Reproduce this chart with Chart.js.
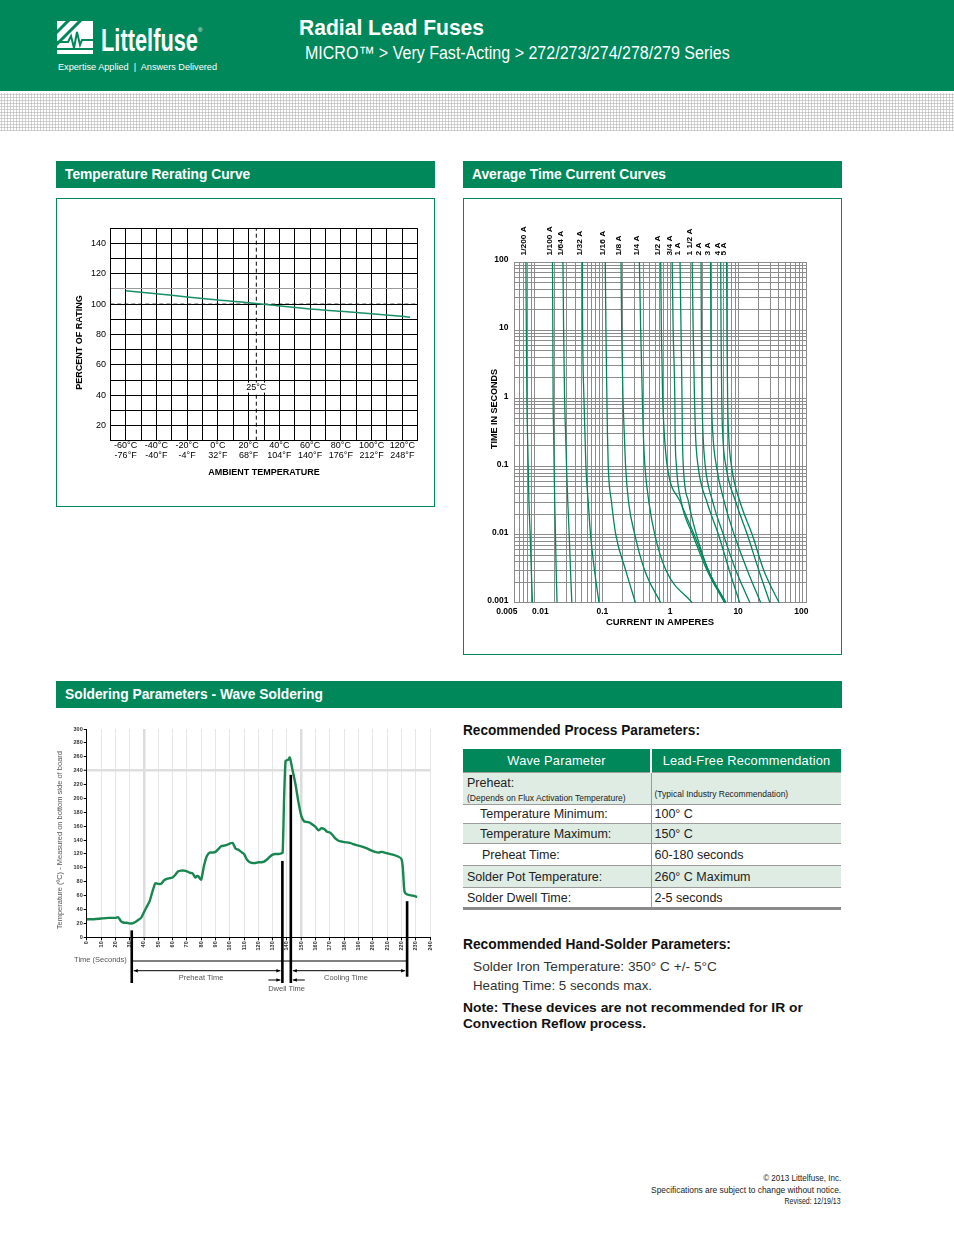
<!DOCTYPE html>
<html lang="en">
<head>
<meta charset="utf-8">
<title>Radial Lead Fuses - 272/273/274/278/279 Series</title>
<script src="https://cdn.jsdelivr.net/npm/chart.js@4.4.1/dist/chart.umd.min.js"></script>
<style>
  html, body { margin: 0; padding: 0; }
  body { width: 954px; height: 1235px; position: relative; overflow: hidden; background: #fff;
         font-family: "Liberation Sans", Arial, Helvetica, sans-serif; color: #222; }
  .abs { position: absolute; white-space: nowrap; line-height: 1; transform-origin: left center; }
  .right { transform-origin: right center; text-align: right; }
  .band { left: 0; top: 0; width: 954px; height: 91px; background: #00875a; }
  .dots { left: 0; top: 93px; width: 954px; height: 38px;
          background-image: radial-gradient(circle, #c2c2c2 0.9px, rgba(255,255,255,0) 1.3px);
          background-size: 3px 3px; }
  .bar { position: absolute; background: #00875a; color: #fff; font-weight: bold; font-size: 13.8px;
         height: 27px; line-height: 27px; padding-left: 9px; box-sizing: border-box; }
  .box { position: absolute; border: 1px solid #00875a; box-sizing: border-box; }
  .wrap { position: absolute; }
  .ptab { position: absolute; left: 463px; top: 749px; width: 378px; border-collapse: collapse;
          table-layout: fixed; font-size: 12.5px; color: #222; }
  .ptab th { background: #00875a; color: #fff; font-weight: normal; height: 23px; padding: 0;
             text-align: center; font-size: 12.8px; letter-spacing: 0.2px; }
  .ptab th + th { border-left: 2px solid #fff; }
  .ptab td { padding: 0 0 0 4px; border-top: 1px solid #9c9c9c; vertical-align: middle; white-space: nowrap; }
  .ptab td + td { border-left: 1px solid #9c9c9c; padding-left: 3px; }
  .ptab tr.g td { background: #deece4; }
  .ptab tr.last td { border-bottom: 3px solid #8a8a8a; }
  .ptab .sm { font-size: 8.5px; }
  .ptab .ind { padding-left: 17px; }
</style>
</head>
<body>

<div class="abs band"></div>
<div class="abs dots"></div>

<!-- logo -->
<svg class="abs" style="left:57px;top:21px" width="36" height="33" viewBox="0 0 36 33">
  <rect x="0" y="0" width="36" height="33" fill="#fff"/>
  <path d="M-2 13 L13 -2 M-2 25 L25 -2" stroke="#00875a" stroke-width="3"/>
  <path d="M0 21 L11 21 L14 15 L17 27 L20 11 L23 24 L25 19 L36 19" fill="none" stroke="#00875a" stroke-width="2"/>
  <rect x="0" y="27" width="36" height="2" fill="#00875a"/>
</svg>
<div class="abs" data-w="97" style="left:101px;top:24.5px;font-size:31px;font-weight:bold;color:#fff">Littelfuse</div>
<div class="abs" style="left:198px;top:27px;font-size:6px;color:#fff">®</div>
<div class="abs" data-w="159" style="left:58px;top:61.5px;font-size:9.5px;color:#fff">Expertise Applied &nbsp;|&nbsp; Answers Delivered</div>

<div class="abs" data-w="185" style="left:299px;top:17.3px;font-size:22px;font-weight:bold;color:#fff">Radial Lead Fuses</div>
<div class="abs" data-w="425" style="left:305px;top:44.2px;font-size:18px;color:#fff">MICRO™ &gt; Very Fast-Acting &gt; 272/273/274/278/279 Series</div>

<!-- section bars and boxes -->
<div class="bar" style="left:56px;top:161px;width:379px">Temperature Rerating Curve</div>
<div class="bar" style="left:463px;top:161px;width:379px">Average Time Current Curves</div>
<div class="box" style="left:56px;top:198px;width:379px;height:309px"></div>
<div class="box" style="left:463px;top:198px;width:379px;height:457px"></div>
<div class="wrap" style="left:57px;top:199px;width:377px;height:307px"><canvas id="rerateChart"></canvas></div>
<div class="wrap" style="left:464px;top:199px;width:377px;height:455px"><canvas id="tccChart"></canvas></div>

<div class="bar" style="left:56px;top:681px;width:786px">Soldering Parameters - Wave Soldering</div>
<div class="wrap" style="left:50px;top:720px;width:392px;height:285px"><canvas id="solderChart"></canvas></div>

<!-- process parameters -->
<div class="abs" data-w="237" style="left:463px;top:723px;font-size:14px;font-weight:bold;color:#111">Recommended Process Parameters:</div>
<table class="ptab">
  <colgroup><col style="width:188px"><col style="width:190px"></colgroup>
  <tr><th>Wave Parameter</th><th>Lead-Free Recommendation</th></tr>
  <tr class="g" style="height:32px">
    <td style="vertical-align:top;padding-top:3px"><div style="font-size:12.5px">Preheat:</div><div class="sm" style="margin-top:3px">(Depends on Flux Activation Temperature)</div></td>
    <td style="vertical-align:bottom;padding-bottom:4px"><span class="sm">(Typical Industry Recommendation)</span></td>
  </tr>
  <tr style="height:19px"><td class="ind">Temperature Minimum:</td><td>100° C</td></tr>
  <tr class="g" style="height:20px"><td class="ind">Temperature Maximum:</td><td>150° C</td></tr>
  <tr style="height:22px"><td style="padding-left:19px">Preheat Time:</td><td>60-180 seconds</td></tr>
  <tr class="g" style="height:22px"><td>Solder Pot Temperature:</td><td>260° C Maximum</td></tr>
  <tr class="last" style="height:21px"><td>Solder Dwell Time:</td><td>2-5 seconds</td></tr>
</table>

<div class="abs" data-w="268" style="left:463px;top:937px;font-size:14px;font-weight:bold;color:#111">Recommended Hand-Solder Parameters:</div>
<div class="abs" data-w="244" style="left:473px;top:960px;font-size:13px;color:#333">Solder Iron Temperature: 350° C +/- 5°C</div>
<div class="abs" data-w="179" style="left:473px;top:978.5px;font-size:13px;color:#333">Heating Time: 5 seconds max.</div>
<div class="abs" data-w="340" style="left:463px;top:1000.5px;font-size:13.5px;font-weight:bold;color:#111">Note: These devices are not recommended for IR or</div>
<div class="abs" data-w="183" style="left:463px;top:1016.5px;font-size:13.5px;font-weight:bold;color:#111">Convection Reflow process.</div>

<!-- footer -->
<div class="abs right" data-w="78" style="right:113px;top:1173.5px;font-size:9px;color:#222">© 2013 Littelfuse, Inc.</div>
<div class="abs right" data-w="190" style="right:113px;top:1185.5px;font-size:9px;color:#222">Specifications are subject to change without notice.</div>
<div class="abs right" data-w="56" style="right:113px;top:1196.5px;font-size:9px;color:#222">Revised: 12/19/13</div>

<script>
// ---------- Temperature rerating curve ----------
const rerateTempC = [-60, -40, -20, 0, 20, 40, 60, 80, 100, 120, 125];
const reratePct   = [108.9, 106.9, 104.7, 102.7, 101.0, 98.8, 96.8, 95.3, 93.7, 92.0, 91.3];
const tempTicksC  = [-60, -40, -20, 0, 20, 40, 60, 80, 100, 120];
const tempLabelsC = ['-60°C', '-40°C', '-20°C', '0°C', '20°C', '40°C', '60°C', '80°C', '100°C', '120°C'];
const tempLabelsF = ['-76°F', '-40°F', '-4°F', '32°F', '68°F', '104°F', '140°F', '176°F', '212°F', '248°F'];
const pctTicks    = [20, 40, 60, 80, 100, 120, 140];
const refTempC = 25;
const refPct = 100;

// ---------- Average time current curves ----------
const fuseRatings = ['1/200 A', '1/100 A', '1/64 A', '1/32 A', '1/16 A', '1/8 A', '1/4 A', '1/2 A',
                     '3/4 A', '1 A', '1 1/2 A', '2 A', '3 A', '4 A', '5 A'];
const curveTimes = [100, 10, 1, 0.3, 0.1, 0.03, 0.01, 0.003, 0.001];   // seconds
const amps_1_200 = [0.00749, 0.0076, 0.00774, 0.0079, 0.0081, 0.0083, 0.00866, 0.0090, 0.00935];
const amps_1_100 = [0.01845, 0.01866, 0.01885, 0.0192, 0.0195, 0.0199, 0.0204, 0.0209, 0.02155];
const amps_1_64  = [0.0263, 0.0269, 0.0278, 0.0288, 0.0297, 0.0310, 0.0325, 0.0340, 0.0355];
const amps_1_32  = [0.0507, 0.0513, 0.0536, 0.0555, 0.0573, 0.0620, 0.0670, 0.0766, 0.0894];
const amps_1_16  = [0.1105, 0.1130, 0.1168, 0.1190, 0.1222, 0.1365, 0.1578, 0.2203, 0.3075];
const amps_1_8   = [0.1885, 0.1928, 0.2015, 0.2107, 0.2203, 0.2434, 0.3008, 0.4199, 0.724];
const amps_1_4   = [0.3515, 0.3674, 0.3885, 0.4017, 0.4246, 0.4853, 0.5929, 0.8654, 2.1];
const amps_1_2   = [0.724, 0.7405, 0.774, 0.8185, 0.905, 1.412, 2.25, 3.63, 6.41];
const amps_3_4   = [1.069, 1.105, 1.169, 1.182, 1.235, 1.455, 2.14, 3.48, 6.31];
const amps_1     = [1.396, 1.443, 1.492, 1.509, 1.561, 1.864, 2.435, 3.65, 6.66];
const amps_1_5   = [2.107, 2.179, 2.278, 2.355, 2.574, 3.476, 5.13, 7.40, 10.57];
const amps_2     = [2.846, 2.877, 2.942, 3.042, 3.288, 4.246, 6.062, 9.25, 14.92];
const amps_3     = [3.929, 3.972, 4.061, 4.246, 4.799, 6.268, 8.75, 13.65, 21.54];
const amps_4     = [5.546, 5.608, 5.735, 5.93, 6.626, 9.25, 13.65, 20.15, 29.42];
const amps_5     = [6.773, 6.849, 7.003, 7.241, 8.006, 10.69, 16.13, 23.82, 40.17];
const currentTicks  = [0.005, 0.01, 0.1, 1, 10, 100];
const currentLabels = ['0.005', '0.01', '0.1', '1', '10', '100'];
const timeTicks  = [0.001, 0.01, 0.1, 1, 10, 100];
const timeLabels = ['0.001', '0.01', '0.1', '1', '10', '100'];

// ---------- Wave soldering profile ----------
const solderTime = [0, 5, 10, 15, 20, 22, 24, 26, 28, 30, 32, 34, 36, 38, 40, 42, 44, 46, 48, 50,
  52, 54, 56, 58, 60, 62, 64, 66, 68, 70, 72, 74, 76, 77, 78, 79, 80, 81, 82, 84,
  86, 88, 90, 92, 94, 96, 98, 100, 102, 104, 106, 108, 110, 112, 114, 116, 118, 120, 122, 124,
  126, 128, 130, 132, 134, 136, 137, 138, 139, 140, 141, 142, 143, 144, 146, 148, 150, 152, 154, 156,
  158, 160, 162, 164, 166, 168, 170, 172, 174, 176, 178, 180, 184, 188, 192, 196, 200, 204, 206, 210,
  214, 218, 220, 221, 222, 223, 225, 228, 231];
const solderTemp = [26, 26, 27, 28, 28, 29, 23, 21, 21, 20, 20, 22, 25, 28, 36, 44, 52, 66, 78, 77,
  77, 82, 84, 85, 86, 90, 95, 96, 96, 95, 93, 92, 86, 88, 88, 85, 83, 92, 103, 117,
  122, 122, 123, 127, 131, 132, 133, 135, 136, 128, 126, 123, 120, 112, 108, 107, 107, 108, 108, 109,
  112, 116, 119, 120, 120, 121, 122, 200, 254, 255, 256, 259, 250, 240, 220, 195, 175, 167, 166, 165,
  162, 159, 154, 157, 156, 152, 151, 147, 142, 139, 138, 137, 136, 133, 131, 128, 124, 122, 123, 121,
  119, 116, 113, 100, 68, 63, 61, 60, 58];
const phaseMarkTime = [31.5, 136.8, 142.7, 224];
const phaseMarkTemp = [10, 110, 234, 52];
const phaseNames = ['Preheat Time', 'Dwell Time', 'Cooling Time'];

const GREEN = '#00875a';
const FONT = '"Liberation Sans", Arial, Helvetica, sans-serif';
Chart.defaults.font.family = FONT;
Chart.defaults.color = '#000';
Chart.defaults.animation = false;

// rotated y title, placed relative to the plot area
const sideTitle = {
  id: 'sideTitle',
  afterDraw(chart, args, opts) {
    if (!opts || !opts.text) return;
    const { ctx, chartArea: a } = chart;
    ctx.save();
    ctx.font = opts.font;
    ctx.fillStyle = opts.color || '#000';
    ctx.textAlign = 'center';
    ctx.textBaseline = 'middle';
    ctx.translate(a.left + opts.dx, (a.top + a.bottom) / 2 + opts.dy);
    ctx.rotate(-Math.PI / 2);
    ctx.fillText(opts.text, 0, 0);
    ctx.restore();
  }
};
Chart.register(sideTitle);

function labelFor(v, values, labels) {
  const i = values.findIndex(t => Math.abs(t - v) <= Math.abs(t) * 1e-6);
  return i < 0 ? '' : labels[i];
}

// 1..9 x 10^n grid lines for the log axes
function logGridTicks(min, max) {
  const ticks = [];
  for (let e = Math.floor(Math.log10(min)); e <= Math.ceil(Math.log10(max)); e++) {
    for (let m = 1; m <= 9; m++) {
      const v = Number((m * Math.pow(10, e)).toPrecision(4));
      if (v >= min * (1 - 1e-9) && v <= max * (1 + 1e-9)) ticks.push({ value: v });
    }
  }
  return ticks;
}

// ---------- Chart 1: rerating ----------
const refLabel = {
  id: 'refLabel',
  afterDatasetsDraw(chart) {
    const { ctx, scales: { x, y } } = chart;
    const px = x.getPixelForValue(refTempC);
    const py = y.getPixelForValue(45);
    ctx.save();
    ctx.font = '9px ' + FONT;
    const w = ctx.measureText(refTempC + '°C').width + 2;
    ctx.fillStyle = '#fff';
    ctx.fillRect(px - w / 2, py - 5, w, 10);
    ctx.fillStyle = '#000';
    ctx.textAlign = 'center';
    ctx.textBaseline = 'middle';
    ctx.fillText(refTempC + '°C', px, py);
    ctx.restore();
  }
};

new Chart(document.getElementById('rerateChart'), {
  type: 'line',
  data: {
    datasets: [
      { data: rerateTempC.map((c, i) => ({ x: c, y: reratePct[i] })),
        borderColor: '#1a9068', borderWidth: 1.5, pointRadius: 0, tension: 0.3 },
      { data: [{ x: -70, y: refPct }, { x: 130, y: refPct }],
        borderColor: '#000', borderWidth: 1, borderDash: [4, 3], pointRadius: 0 },
      { data: [{ x: refTempC, y: 10 }, { x: refTempC, y: 150 }],
        borderColor: '#000', borderWidth: 1, borderDash: [4, 3], pointRadius: 0 }
    ]
  },
  options: {
    responsive: true,
    maintainAspectRatio: false,
    layout: { padding: { top: 29.3, right: 16.3, bottom: 23.9, left: 0 } },
    plugins: {
      legend: { display: false },
      tooltip: { enabled: false },
      sideTitle: { text: 'PERCENT OF RATING', dx: -31, dy: 8, font: 'bold 9px ' + FONT }
    },
    scales: {
      x: {
        type: 'linear', min: -70, max: 130,
        afterFit: s => { s.height = 41.4; },
        ticks: {
          stepSize: 10, autoSkip: false, maxRotation: 0, padding: 0,
          font: { size: 9, lineHeight: 1.12 },
          callback: v => {
            const i = tempTicksC.indexOf(v);
            return i < 0 ? '' : [tempLabelsC[i], tempLabelsF[i]];
          }
        },
        grid: { color: '#000', lineWidth: 1, drawTicks: false },
        border: { color: '#000' },
        title: { display: true, text: 'AMBIENT TEMPERATURE', font: { size: 9, weight: 'bold' }, padding: { top: 0, bottom: 4 } }
      },
      y: {
        min: 10, max: 150,
        afterFit: s => { s.width = 53.3; },
        ticks: { stepSize: 10, padding: 4.3, font: { size: 9 },
                 callback: v => pctTicks.includes(v) ? String(v) : '' },
        grid: { color: c => (c.tick && c.tick.value === 110) ? '#9a9a9a' : '#000', drawTicks: false },
        border: { color: '#000' }
      }
    }
  },
  plugins: [refLabel]
});

// ---------- Chart 2: time current curves ----------
const ampSeries = [amps_1_200, amps_1_100, amps_1_64, amps_1_32, amps_1_16, amps_1_8, amps_1_4, amps_1_2,
                   amps_3_4, amps_1, amps_1_5, amps_2, amps_3, amps_4, amps_5];

const ratingLabels = {
  id: 'ratingLabels',
  afterDatasetsDraw(chart) {
    const { ctx, chartArea, scales: { x } } = chart;
    ctx.save();
    ctx.font = 'bold 8px ' + FONT;
    ctx.fillStyle = '#000';
    ctx.textAlign = 'left';
    ctx.textBaseline = 'middle';
    chart.data.datasets.forEach(ds => {
      const px = x.getPixelForValue(ds.data[0].x);
      ctx.save();
      ctx.translate(px - 2.2, chartArea.top - 6.5);
      ctx.rotate(-Math.PI / 2);
      ctx.scale(1.05, 0.88);
      ctx.fillText(ds.label, 0, 0);
      ctx.restore();
    });
    ctx.restore();
  }
};

// the edge labels of the current axis sit a little off their grid lines
const currentLabelPad = [[0, 6], [5, 0], [0, 0], [0, 0], [0, 0], [0, 4]];

new Chart(document.getElementById('tccChart'), {
  type: 'line',
  data: {
    datasets: fuseRatings.map((r, i) => ({
      label: r,
      data: curveTimes.map((t, k) => ({ x: ampSeries[i][k], y: t })),
      borderColor: GREEN, borderWidth: 1.3, pointRadius: 0,
      cubicInterpolationMode: 'monotone'
    }))
  },
  options: {
    responsive: true,
    maintainAspectRatio: false,
    layout: { padding: { top: 63, right: 35, bottom: 26, left: 0 } },
    plugins: {
      legend: { display: false },
      tooltip: { enabled: false },
      sideTitle: { text: 'TIME IN SECONDS', dx: -19.3, dy: -23.4, font: 'bold 9px ' + FONT }
    },
    scales: {
      x: {
        type: 'logarithmic', min: 0.005, max: 100,
        afterBuildTicks: s => { s.ticks = logGridTicks(0.005, 100); },
        afterFit: s => { s.height = 25.3; },
        ticks: { autoSkip: false, maxRotation: 0, padding: 3.7, font: { size: 8.5, weight: 'bold' },
                 callback: v => {
                   const i = currentTicks.findIndex(t => Math.abs(t - v) <= t * 1e-6);
                   if (i < 0) return '';
                   const [lead, trail] = currentLabelPad[i];
                   return ' '.repeat(lead) + currentLabels[i] + ' '.repeat(trail);
                 } },
        grid: { color: '#8c8c8c', lineWidth: 1, drawTicks: false },
        border: { color: '#8c8c8c' },
        title: { display: true, text: 'CURRENT IN AMPERES', font: { size: 9.5, weight: 'bold' }, padding: { top: 0, bottom: 0 } }
      },
      y: {
        type: 'logarithmic', min: 0.001, max: 100,
        afterBuildTicks: s => { s.ticks = logGridTicks(0.001, 100); },
        afterFit: s => { s.width = 50; },
        ticks: { autoSkip: false, padding: 5.5, labelOffset: -2, font: { size: 8.5, weight: 'bold' },
                 callback: v => labelFor(v, timeTicks, timeLabels) },
        grid: { color: '#8c8c8c', lineWidth: 1, drawTicks: false },
        border: { color: '#8c8c8c' }
      }
    }
  },
  plugins: [ratingLabels]
});

// ---------- Chart 3: wave soldering profile ----------
function arrowHead(ctx, x, y, dir) {
  ctx.beginPath();
  ctx.moveTo(x, y);
  ctx.lineTo(x - dir * 4, y - 1.8);
  ctx.lineTo(x - dir * 4, y + 1.8);
  ctx.closePath();
  ctx.fill();
}

const phasePlugin = {
  id: 'phases',
  afterDraw(chart) {
    const { ctx, chartArea: a, scales: { x, y } } = chart;
    const xs = phaseMarkTime.map(t => x.getPixelForValue(t));
    ctx.save();
    ctx.fillStyle = '#000';
    ctx.strokeStyle = '#000';
    ctx.lineWidth = 1;
    phaseMarkTime.forEach((t, i) => {
      const top = y.getPixelForValue(phaseMarkTemp[i]);
      const bot = a.bottom + (i === 3 ? 39.4 : 45.7);
      ctx.fillRect(xs[i] - 1.3, top, 2.6, bot - top);
    });
    // overall time line
    const yLine = a.bottom + 23.7;
    ctx.beginPath();
    ctx.moveTo(xs[0], yLine);
    ctx.lineTo(xs[3], yLine);
    ctx.stroke();
    // preheat and cooling spans
    const yArr = a.bottom + 33.4;
    [[xs[0] + 2, xs[1] - 2], [xs[2] + 2, xs[3] - 2]].forEach(([x1, x2]) => {
      ctx.beginPath();
      ctx.moveTo(x1, yArr);
      ctx.lineTo(x2, yArr);
      ctx.stroke();
      arrowHead(ctx, x1, yArr, -1);
      arrowHead(ctx, x2, yArr, 1);
    });
    // dwell arrows pointing inward
    const yDw = a.bottom + 42.7;
    ctx.beginPath();
    ctx.moveTo(xs[1] - 14, yDw); ctx.lineTo(xs[1] - 2, yDw);
    ctx.moveTo(xs[2] + 14, yDw); ctx.lineTo(xs[2] + 2, yDw);
    ctx.stroke();
    arrowHead(ctx, xs[1] - 2, yDw, 1);
    arrowHead(ctx, xs[2] + 2, yDw, -1);
    // labels
    ctx.font = '7.5px ' + FONT;
    ctx.fillStyle = '#555';
    ctx.textBaseline = 'middle';
    ctx.textAlign = 'right';
    ctx.fillText('Time (Seconds)', xs[0] - 5, yLine - 1);
    ctx.textAlign = 'center';
    ctx.fillText(phaseNames[0], (xs[0] + xs[1]) / 2 - 6, a.bottom + 40.7);
    ctx.fillText(phaseNames[1], (xs[1] + xs[2]) / 2, a.bottom + 51.7);
    ctx.fillText(phaseNames[2], (xs[2] + xs[3]) / 2 - 3, a.bottom + 40.7);
    ctx.restore();
  }
};

const thickX = [40, 150];
new Chart(document.getElementById('solderChart'), {
  type: 'line',
  data: {
    datasets: [{
      data: solderTime.map((t, i) => ({ x: t, y: solderTemp[i] })),
      borderColor: '#17874f', borderWidth: 2.4, pointRadius: 0, tension: 0.2
    }]
  },
  options: {
    responsive: true,
    maintainAspectRatio: false,
    layout: { padding: { top: 9, right: 12, bottom: 53.7, left: 0 } },
    plugins: {
      legend: { display: false },
      tooltip: { enabled: false },
      sideTitle: { text: 'Temperature (ºC) - Measured on bottom side of board', dx: -26.7, dy: 7,
                   font: '7.5px ' + FONT, color: '#555' }
    },
    scales: {
      x: {
        type: 'linear', min: 0, max: 240,
        afterFit: s => { s.height = 14; },
        ticks: { stepSize: 10, autoSkip: false, minRotation: 90, maxRotation: 90, padding: 1,
                 font: { size: 5.5, weight: 'bold' }, color: '#333' },
        grid: {
          color: c => thickX.includes(c.tick && c.tick.value) ? '#dcdcdc' : '#e6e6e6',
          lineWidth: c => thickX.includes(c.tick && c.tick.value) ? 2.5 : 1,
          tickColor: '#000', tickLength: 3, tickWidth: 1
        },
        border: { color: '#000', width: 1 }
      },
      y: {
        min: 0, max: 300,
        afterFit: s => { s.width = 36.7; },
        ticks: { stepSize: 20, padding: 1, font: { size: 5.5, weight: 'bold' }, color: '#333' },
        grid: {
          color: c => (c.tick && c.tick.value === 240) ? '#dedede' : 'rgba(0,0,0,0)',
          lineWidth: c => (c.tick && c.tick.value === 240) ? 2.5 : 1,
          tickColor: '#000', tickLength: 3, tickWidth: 1
        },
        border: { color: '#000', width: 1 }
      }
    }
  },
  plugins: [phasePlugin]
});

// ---------- squeeze header / text lines to the measured widths ----------
document.querySelectorAll('[data-w]').forEach(el => {
  const w = el.getBoundingClientRect().width;
  if (w > 0) el.style.transform = 'scaleX(' + (Number(el.dataset.w) / w).toFixed(3) + ')';
});
</script>
</body>
</html>
